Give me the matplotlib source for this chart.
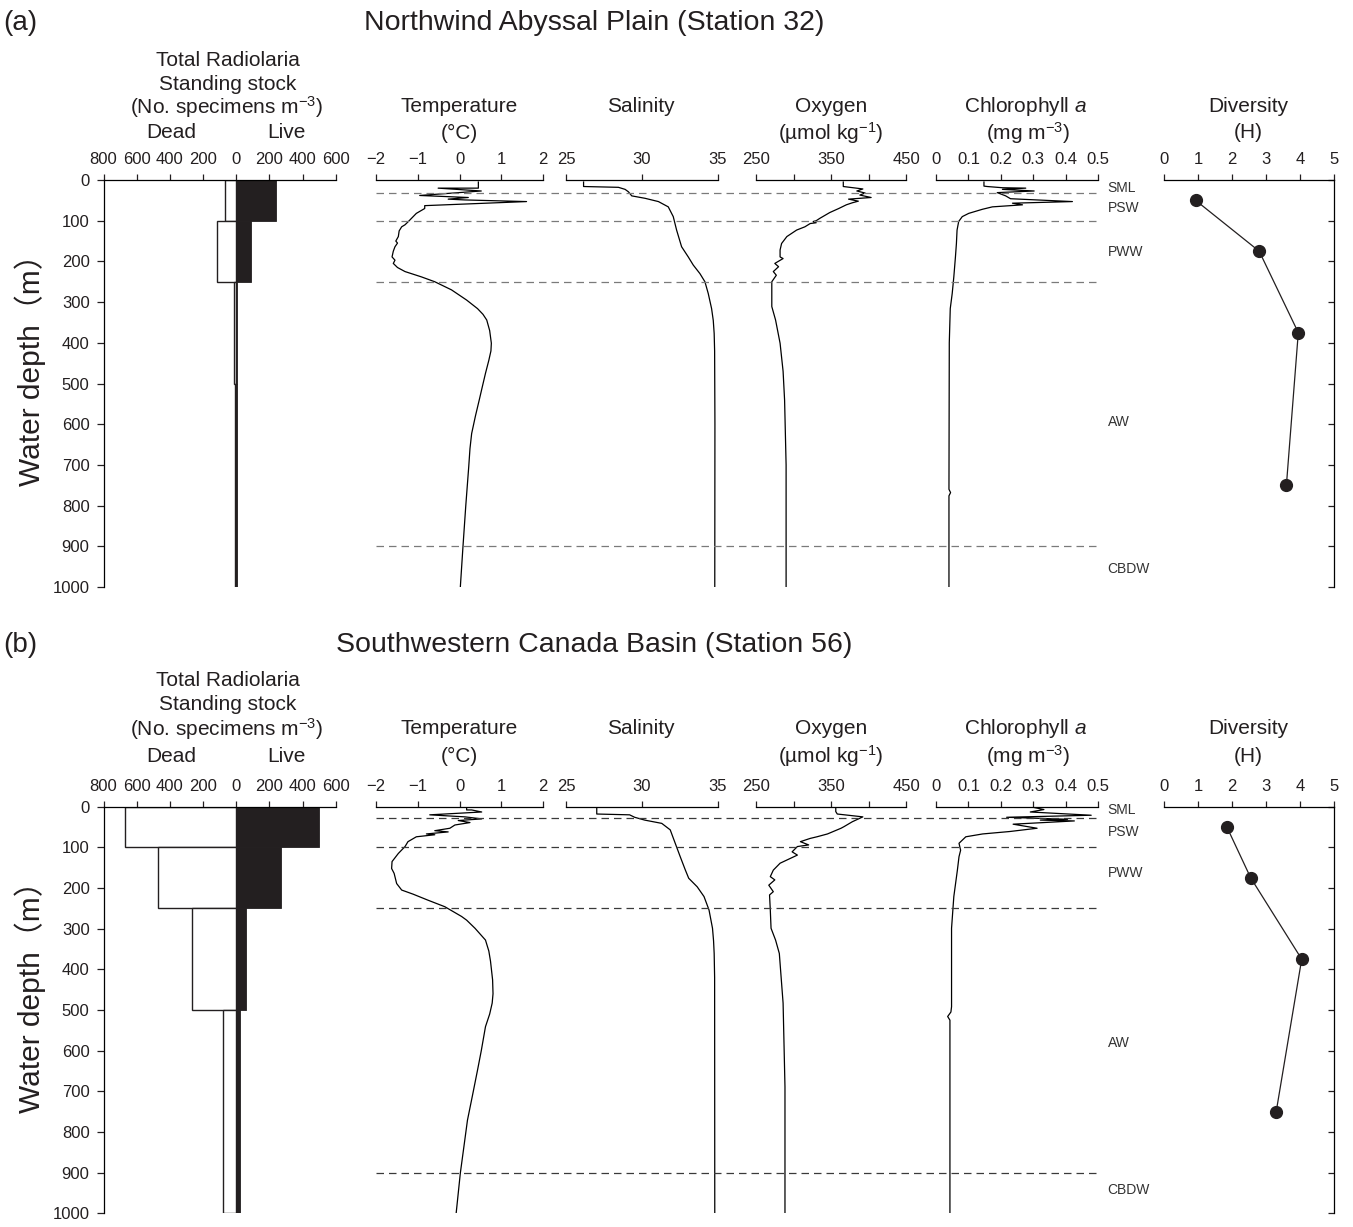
import matplotlib.pyplot as plt
import matplotlib.transforms as mtransforms

plt.rcParams['font.family'] = ['Liberation Sans', 'Noto Sans CJK JP', 'DejaVu Sans']
plt.rcParams['mathtext.fontset'] = 'custom'
plt.rcParams['mathtext.rm'] = 'Liberation Sans'
plt.rcParams['mathtext.it'] = 'Liberation Sans:italic'

W, H = 1353, 1227

# ---------------- data ----------------
bin_top = [0, 100, 250, 500]
bin_bot = [100, 250, 500, 1000]
dead_a = [65, 115, 12, 8]
live_a = [240, 92, 6, 5]
dead_b = [670, 470, 265, 78]
live_b = [497, 268, 58, 26]

div_depth = [50, 175, 375, 750]
div_a = [0.93, 2.8, 3.95, 3.6]
div_b = [1.85, 2.55, 4.05, 3.3]

stock_ticks = [-800, -600, -400, -200, 0, 200, 400, 600]
stock_labels = ['800', '600', '400', '200', '0', '200', '400', '600']

# boundaries between water masses (m)
bounds_a = [31, 100, 250, 900]
bounds_b = [29, 100, 250, 900]
mass_names = ['SML', 'PSW', 'PWW', 'AW', 'CBDW']
mass_depth_a = [20, 70, 176, 594, 955]
mass_depth_b = [7, 61, 164, 582, 943]

# CTD profiles, station 32
temp_a_z = [5, 20, 20, 27, 38, 43, 47, 49, 53, 63, 70, 82, 102, 110, 115, 125, 139, 150, 155,
            164, 175, 189, 197, 205, 215, 225, 238, 250, 270, 295, 316, 330, 344, 370, 401,
            420, 443, 475, 510, 541, 580, 623, 660, 705, 800, 905, 1000]
temp_a = [0.45, 0.45, -0.51, 0.52, -0.95, 0.21, -0.27, 0.13, 1.60, -0.83, -0.83, -1.03, -1.22,
          -1.30, -1.38, -1.44, -1.46, -1.52, -1.48, -1.54, -1.58, -1.61, -1.54, -1.58, -1.48,
          -1.30, -0.91, -0.59, -0.19, 0.17, 0.43, 0.56, 0.65, 0.72, 0.76, 0.75, 0.70, 0.62,
          0.54, 0.47, 0.38, 0.29, 0.25, 0.22, 0.15, 0.08, 0.02]

sal_a_z = [5, 16, 18, 23, 29, 39, 45, 53, 66, 90, 123, 164, 189, 209, 230, 250, 279, 316, 345,
           377, 420, 600, 1000]
sal_a = [26.16, 26.16, 28.46, 28.9, 29.12, 29.34, 30.22, 31.1, 31.75, 32.08, 32.3, 32.63, 33.07,
         33.4, 33.84, 34.17, 34.39, 34.61, 34.72, 34.78, 34.81, 34.83, 34.82]

oxy_a_z = [5, 16, 22, 27, 32, 37, 43, 47, 52, 56, 61, 70, 80, 94, 100, 102, 105, 107, 115,
           123, 139, 156, 172, 189, 193, 205, 213, 225, 234, 250, 311, 344, 401, 470, 541,
           700, 1000]
oxy_a = [366, 366, 392, 384, 395, 388, 403, 373, 386, 378, 370, 360, 348, 335, 330, 326, 330,
         322, 315, 304, 291, 284, 282, 282, 286, 275, 280, 273, 277, 271, 271, 276, 282, 286,
         288, 290, 290]

chl_a_z = [5, 15, 16, 19, 20, 23, 27, 31, 39, 46, 53, 57, 61, 66, 72, 82, 90, 102, 123, 156,
           189, 238, 279, 316, 400, 760, 768, 776, 1000]
chl_a = [0.148, 0.148, 0.158, 0.205, 0.277, 0.205, 0.303, 0.189, 0.215, 0.230, 0.421, 0.236,
         0.267, 0.174, 0.143, 0.101, 0.081, 0.070, 0.065, 0.063, 0.060, 0.055, 0.050, 0.044,
         0.041, 0.040, 0.045, 0.040, 0.040]

# CTD profiles, station 56
temp_b_z = [0, 8, 8, 13, 20, 25, 30, 34, 39, 45, 53, 59, 62, 67, 69, 74, 86, 98, 115, 135,
            152, 164, 189, 205, 215, 230, 246, 270, 279, 299, 328, 355, 380, 426, 460, 483,
            510, 541, 600, 648, 710, 771, 840, 901, 1000]
temp_b = [0.17, 0.17, 0.29, 0.53, -0.71, 0.13, 0.53, -0.03, 0.25, -0.11, -0.23, -0.59, -0.27,
          -0.79, -0.59, -1.03, -1.23, -1.30, -1.46, -1.61, -1.62, -1.56, -1.50, -1.38, -1.11,
          -0.75, -0.35, 0.05, 0.17, 0.37, 0.62, 0.70, 0.74, 0.79, 0.80, 0.78, 0.72, 0.62,
          0.52, 0.43, 0.31, 0.19, 0.10, 0.02, -0.08]

sal_b_z = [0, 18, 20, 26, 33, 41, 57, 90, 123, 156, 176, 197, 221, 254, 299, 330, 361, 420,
           1000]
sal_b = [27.03, 27.03, 29.2, 29.53, 30.2, 31.32, 31.88, 32.21, 32.54, 32.88, 33.1, 33.66,
         34.11, 34.44, 34.67, 34.74, 34.78, 34.81, 34.82]

oxy_b_z = [0, 12, 18, 25, 31, 37, 49, 53, 67, 74, 78, 86, 94, 98, 111, 119, 139, 156, 172,
           180, 193, 209, 217, 254, 299, 328, 361, 483, 689, 1000]
oxy_b = [356, 356, 358, 392, 385, 378, 367, 363, 345, 331, 322, 309, 320, 305, 298, 305, 282,
         273, 269, 275, 267, 273, 268, 269, 270, 276, 281, 286, 288.5, 288.5]

chl_b_z = [0, 7, 13, 21, 26, 31, 33, 35, 43, 53, 61, 67, 74, 90, 107, 123, 156, 221, 299, 492,
           505, 516, 525, 1000]
chl_b = [0.291, 0.333, 0.291, 0.479, 0.218, 0.406, 0.322, 0.427, 0.238, 0.312, 0.228, 0.144,
         0.092, 0.071, 0.076, 0.071, 0.066, 0.055, 0.048, 0.048, 0.046, 0.036, 0.043, 0.043]

# ---------------- layout helpers ----------------
fig = plt.figure(figsize=(W / 100, H / 100), dpi=100)
ink = '#231f20'


def add_ax(x0, x1, y0, y1):
    return fig.add_axes([x0 / W, 1 - y1 / H, (x1 - x0) / W, (y1 - y0) / H])


def ftext(x, y, s, size=15, **kw):
    fig.text(x / W, 1 - y / H, s, fontsize=size, ha='center', va='center', color=ink, **kw)


def top_only(ax, left=False):
    for side in ['right', 'bottom']:
        ax.spines[side].set_visible(False)
    ax.spines['left'].set_visible(left)
    ax.xaxis.tick_top()
    ax.tick_params(axis='x', direction='out', length=4, width=0.9, pad=5,
                   labelsize=12, colors=ink)
    ax.spines['top'].set_linewidth(0.9)
    ax.set_ylim(1000, 0)
    ax.patch.set_alpha(0)


profile_x = [(375.7, 543.3), (566, 717.5), (756, 906.5), (936, 1098), (1164, 1334)]


def panel(y0, y1, tag, title, title_y, rows, dead, live, div, profs, bounds, mass_depth, dcol):
    # standing stock
    ax = add_ax(103.5, 335.7, y0, y1)
    top_only(ax, left=True)
    for t, b, d, l in zip(bin_top, bin_bot, dead, live):
        ax.barh((t + b) / 2, -d, height=b - t, left=0, color='white', edgecolor=ink, lw=1.0)
        ax.barh((t + b) / 2, l, height=b - t, left=0, color=ink, edgecolor=ink, lw=0.6)
    ax.set_xlim(-800, 600)
    ax.set_xticks(stock_ticks)
    ax.set_xticklabels(stock_labels)
    ax.set_yticks(range(0, 1001, 100))
    ax.tick_params(axis='y', direction='out', length=5, width=0.9, pad=5,
                   labelsize=12, colors=ink)
    ax.spines['left'].set_linewidth(0.9)
    ax.set_ylabel('Water depth（m）', fontsize=21.5, color=ink, va='center')
    ax.yaxis.set_label_coords(-0.315, 0.55)

    # profiles
    lims = [(-2, 2), (25, 35), (250, 450), (0, 0.5), (0, 5)]
    ticks = [[-2, -1, 0, 1, 2], [25, 30, 35], [250, 300, 350, 400, 450],
             [0, 0.1, 0.2, 0.3, 0.4, 0.5], [0, 1, 2, 3, 4, 5]]
    tlabels = [['−2', '−1', '0', '1', '2'], ['25', '30', '35'], ['250', '', '350', '', '450'],
               ['0', '0.1', '0.2', '0.3', '0.4', '0.5'], ['0', '1', '2', '3', '4', '5']]
    axes = []
    for i, (xa, xb) in enumerate(profile_x):
        a = add_ax(xa, xb, y0, y1)
        top_only(a)
        a.set_yticks([])
        a.set_xlim(*lims[i])
        a.set_xticks(ticks[i])
        a.set_xticklabels(tlabels[i])
        axes.append(a)
    for a, (val, z) in zip(axes[:4], profs):
        a.plot(val, z, color='black', lw=0.9)

    dv = axes[4]
    dv.spines['right'].set_visible(True)
    dv.spines['right'].set_linewidth(0.9)
    dv.yaxis.tick_right()
    dv.set_yticks(range(0, 1001, 100))
    dv.set_yticklabels([])
    dv.tick_params(axis='y', direction='in', length=4, width=0.9, colors=ink)
    dv.plot(div, div_depth, color=ink, lw=0.9, marker='o', ms=8.5, mfc=ink, mec=ink)

    # dashed boundaries + water mass names
    ov = add_ax(375.7, 1101, y0, y1)
    ov.set_axis_off()
    ov.set_xlim(0, 1)
    ov.set_ylim(1000, 0)
    for z in bounds:
        ov.axhline(z, color=dcol, lw=0.9, dashes=(6, 4))
    tr = mtransforms.blended_transform_factory(ov.transAxes, ov.transData)
    for name, z in zip(mass_names, mass_depth):
        ov.text(1.009, z, name, transform=tr, fontsize=10, color='#333333',
                ha='left', va='center')

    # headers
    ftext(20, title_y, tag, size=20)
    ftext(594, title_y, title, size=20.5)
    r0, r1, r2, r3 = rows
    ftext(228, r0, 'Total Radiolaria')
    ftext(228, r1, 'Standing stock')
    ftext(227, r2, r'(No. specimens m$^{\mathregular{-3}}$)')
    ftext(171, r3, 'Dead')
    ftext(286, r3, 'Live')
    ftext(459.5, r2, 'Temperature')
    ftext(459.5, r3, '(°C)')
    ftext(641, r2, 'Salinity')
    ftext(831, r2, 'Oxygen')
    ftext(831, r3, r'(µmol kg$^{\mathregular{-1}}$)')
    ftext(1026, r2, r'Chlorophyll $\mathit{a}$')
    ftext(1028, r3, r'(mg m$^{\mathregular{-3}}$)')
    ftext(1248, r2, 'Diversity')
    ftext(1248, r3, '(H)')


panel(180, 587, '(a)', 'Northwind Abyssal Plain (Station 32)', 23, (60, 84, 107, 133),
      dead_a, live_a, div_a,
      [(temp_a, temp_a_z), (sal_a, sal_a_z), (oxy_a, oxy_a_z), (chl_a, chl_a_z)],
      bounds_a, mass_depth_a, '#7a7a7a')

panel(806.7, 1213.3, '(b)', 'Southwestern Canada Basin (Station 56)', 645, (680, 704, 729, 756),
      dead_b, live_b, div_b,
      [(temp_b, temp_b_z), (sal_b, sal_b_z), (oxy_b, oxy_b_z), (chl_b, chl_b_z)],
      bounds_b, mass_depth_b, '#3a3a3a')

fig.savefig('out.png', dpi=100)
